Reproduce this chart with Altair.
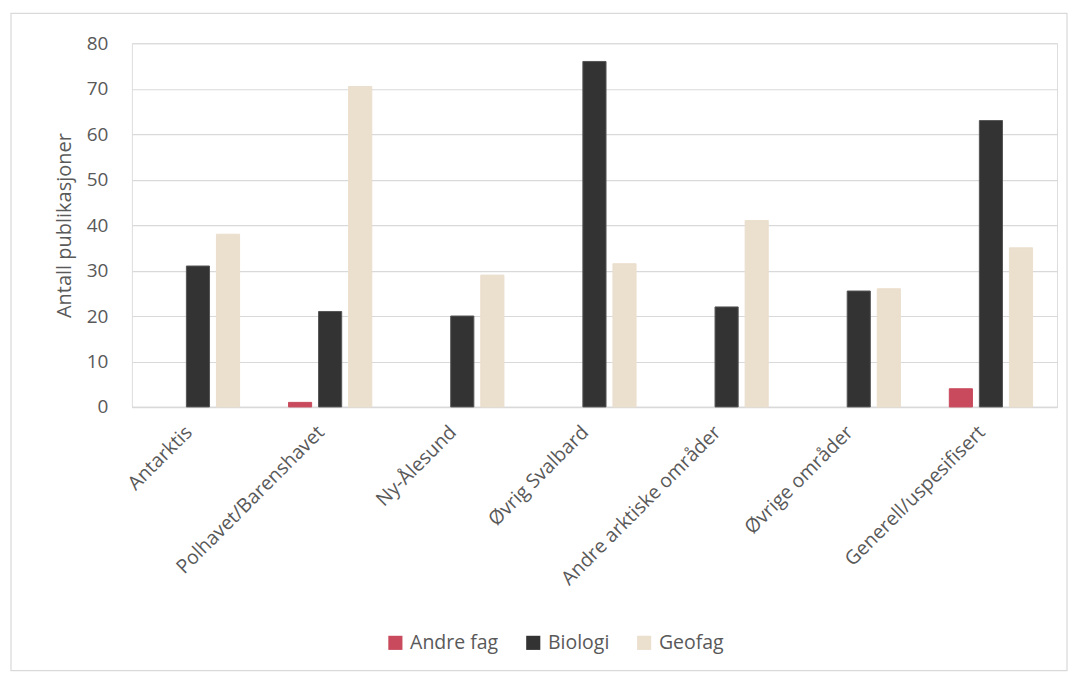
import altair as alt
import pandas as pd

categories = ["Antarktis", "Polhavet/Barenshavet", "Ny-Ålesund", "Øvrig Svalbard",
              "Andre arktiske områder", "Øvrige områder", "Generell/uspesifisert"]
series = ["Andre fag", "Biologi", "Geofag"]
andre_fag = [0, 1, 0, 0, 0, 0, 4]
biologi = [31, 21, 20, 76, 22, 25.5, 63]
geofag = [38, 70.5, 29, 31.5, 41, 26, 35]
colors = ["#C84A5C", "#333333", "#EBDFCE"]

rows = []
for i, c in enumerate(categories):
    for s, vals in zip(series, [andre_fag, biologi, geofag]):
        rows.append({"Område": c, "Fag": s, "Antall": vals[i]})
df = pd.DataFrame(rows)

FONT = "Open Sans"

bars = alt.Chart(df).transform_filter("datum.Antall > 0").mark_bar(strokeWidth=1).encode(
    x=alt.X("Område:N", sort=categories, title=None,
            scale=alt.Scale(domain=categories, paddingInner=0.37, paddingOuter=0.185),
            axis=alt.Axis(labelAngle=-45, labelFontSize=19.5, labelColor="#595959",
                          labelFont=FONT, ticks=False, domainColor="#d9d9d9",
                          domainWidth=1.5, labelPadding=22, labelOffset=-9,
                          labelAlign="right", labelBaseline="middle", labelLimit=400)),
    xOffset=alt.XOffset("Fag:N", sort=series,
                        scale=alt.Scale(domain=series, paddingInner=0.23, paddingOuter=0)),
    y=alt.Y("Antall:Q", title="Antall publikasjoner",
            scale=alt.Scale(domain=[0, 80]),
            axis=alt.Axis(values=[0, 10, 20, 30, 40, 50, 60, 70, 80], labelFontSize=19,
                          labelColor="#595959", labelFont=FONT, ticks=False, domain=False,
                          gridColor="#d9d9d9", gridWidth=1.2, labelPadding=24,
                          titleFontSize=20, titleColor="#595959", titleFont=FONT,
                          titleFontWeight="normal", titlePadding=12)),
    color=alt.Color("Fag:N", sort=series,
                    scale=alt.Scale(domain=series, range=colors),
                    legend=alt.Legend(title=None, orient="none", direction="horizontal",
                                      legendX=254, legendY=590, symbolType="square",
                                      symbolSize=200, labelFontSize=19.5, labelFont=FONT,
                                      labelColor="#595959", columnPadding=25,
                                      symbolStrokeWidth=0, labelOffset=5)),
    stroke=alt.Stroke("Fag:N", sort=series,
                      scale=alt.Scale(domain=series, range=["#C84A5C", "#555555", "#EBDFCE"]),
                      legend=None),
)

border = alt.Chart(pd.DataFrame({"a": [0]})).mark_rect(
    fill=None, stroke="#d9d9d9", strokeWidth=1.2, clip=False
).encode(x=alt.value(-121), x2=alt.value(936), y=alt.value(-30), y2=alt.value(628))

chart = alt.layer(border, bars).properties(
    width=926, height=364,
    padding={"left": 10, "top": 12, "right": 5, "bottom": 5},
).configure_view(stroke=None).configure(background="white")

chart.save("out.html", embed_options={"renderer": "svg", "actions": False})
